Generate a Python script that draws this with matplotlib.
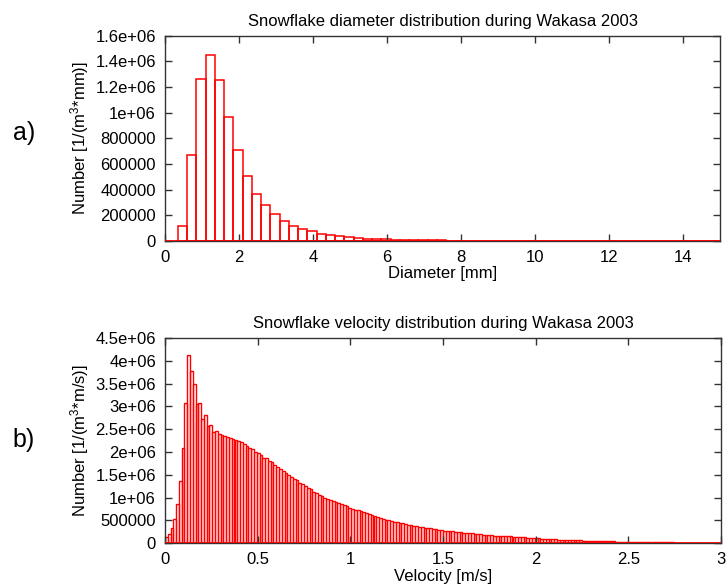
import matplotlib
matplotlib.use("Agg")
import matplotlib.pyplot as plt
import numpy as np

plt.rcParams['font.family'] = ['Liberation Sans', 'DejaVu Sans']
plt.rcParams['mathtext.fontset'] = 'custom'
plt.rcParams['mathtext.rm'] = 'Liberation Sans'
plt.rcParams['mathtext.it'] = 'Liberation Sans'
plt.rcParams['mathtext.default'] = 'rm'

# ---------------- data ----------------
diam_bin_start = 0.35
diam_bin_width = 0.25
diam_counts = [120000, 670000, 1265000, 1450000, 1252000, 970000, 710000, 506000,
               369000, 278000, 208000, 156000, 119000, 91000, 75000, 57000, 44000,
               36000, 29000, 23000, 18000, 15000, 13000, 10000, 8500, 7000, 6000,
               5000, 4200, 3500, 3000, 2500, 2100, 1800, 1500, 1300, 1100, 900, 800,
               700, 600, 500, 400, 350, 300, 250, 200, 180, 150, 120, 100, 80, 70,
               60, 50, 40, 30, 20, 10]

vel_bin_start = 0.0
vel_bin_width = 0.015
vel_counts_e6 = [
    0.145, 0.203, 0.328, 0.525, 0.87, 1.36, 2.08, 3.08, 4.12, 3.77,
    3.49, 3.06, 3.08, 2.73, 2.81, 2.57, 2.60, 2.45, 2.47, 2.39,
    2.37, 2.35, 2.32, 2.30, 2.28, 2.27, 2.24, 2.21, 2.18, 2.14,
    2.08, 2.07, 2.00, 1.98, 1.93, 1.88, 1.86, 1.81, 1.79, 1.72,
    1.67, 1.63, 1.58, 1.55, 1.50, 1.46, 1.42, 1.38, 1.33, 1.30,
    1.25, 1.21, 1.18, 1.13, 1.10, 1.06, 1.03, 1.00, 0.98, 0.96,
    0.93, 0.91, 0.88, 0.86, 0.84, 0.81, 0.78, 0.76, 0.74, 0.72,
    0.70, 0.68, 0.66, 0.64, 0.62, 0.60, 0.58, 0.56, 0.54, 0.52,
    0.50, 0.48, 0.47, 0.46, 0.44, 0.44, 0.42, 0.41, 0.40, 0.39,
    0.37, 0.36, 0.35, 0.34, 0.34, 0.33, 0.32, 0.31, 0.30, 0.29,
    0.28, 0.28, 0.27, 0.26, 0.25, 0.24, 0.24, 0.23, 0.23, 0.22,
    0.22, 0.21, 0.20, 0.20, 0.19, 0.18, 0.18, 0.18, 0.17, 0.17,
    0.17, 0.16, 0.16, 0.15, 0.15, 0.145, 0.14, 0.14, 0.13, 0.13,
    0.125, 0.12, 0.115, 0.11, 0.108, 0.104, 0.10, 0.096, 0.093, 0.09,
    0.087, 0.083, 0.08, 0.078, 0.075, 0.072, 0.07, 0.067, 0.065, 0.063,
    0.06, 0.058, 0.056, 0.054, 0.052, 0.05, 0.048, 0.046, 0.045, 0.043,
    0.042, 0.04, 0.039, 0.037, 0.036, 0.035, 0.033, 0.032, 0.031, 0.03,
    0.029, 0.028, 0.027, 0.026, 0.025, 0.024, 0.023, 0.022, 0.021, 0.02,
    0.019, 0.018, 0.018, 0.017, 0.016, 0.015, 0.015, 0.014, 0.013, 0.013,
    0.012, 0.012, 0.011, 0.011, 0.010, 0.010, 0.009, 0.009, 0.008, 0.008,
]

diam_xticks = [0, 2, 4, 6, 8, 10, 12, 14]
diam_yticks = [0, 200000, 400000, 600000, 800000, 1000000, 1200000, 1400000, 1600000]
diam_ylabels = ['0', '200000', '400000', '600000', '800000', '1e+06', '1.2e+06', '1.4e+06', '1.6e+06']

vel_xticks = [0, 0.5, 1, 1.5, 2, 2.5, 3]
vel_xlabels = ['0', '0.5', '1', '1.5', '2', '2.5', '3']
vel_yticks = [0, 500000, 1000000, 1500000, 2000000, 2500000, 3000000, 3500000, 4000000, 4500000]
vel_ylabels = ['0', '500000', '1e+06', '1.5e+06', '2e+06', '2.5e+06', '3e+06', '3.5e+06', '4e+06', '4.5e+06']

# ---------------- figure ----------------
W, H = 728, 587
fig = plt.figure(figsize=(W / 100, H / 100), dpi=100)

def frac_axes(x0, y0, x1, y1):
    return fig.add_axes([x0 / W, 1 - y1 / H, (x1 - x0) / W, (y1 - y0) / H])

ax1 = frac_axes(165, 35.7, 720, 241)
ax2 = frac_axes(165, 338, 721, 543.3)

FS = 12
red = '#ff0000'

def style(ax):
    for s in ax.spines.values():
        s.set_color('#333333')
        s.set_linewidth(1.0)
    ax.tick_params(direction='in', length=5, width=1, color='#333333',
                   top=True, right=True, labelsize=FS, pad=6.5)

# top histogram
d_counts = np.array(diam_counts, dtype=float)
d_edges = diam_bin_start + diam_bin_width * np.arange(len(d_counts))
ax1.bar(d_edges, d_counts, width=diam_bin_width, align='edge', fill=False,
        edgecolor=red, linewidth=1.1, clip_on=True)
ax1.axhline(0, color=red, linewidth=2, zorder=3)
ax1.set_xlim(0, 15)
ax1.set_ylim(0, 1.6e6)
ax1.set_xticks(diam_xticks)
ax1.set_xticklabels([str(t) for t in diam_xticks])
ax1.set_yticks(diam_yticks)
ax1.set_yticklabels(diam_ylabels)
style(ax1)
ax1.set_title('Snowflake diameter distribution during Wakasa 2003', fontsize=FS, pad=7)
ax1.set_xlabel('Diameter [mm]', fontsize=FS, labelpad=1)
ax1.set_ylabel(r'Number [1/(m$^3$*mm)]', fontsize=FS, labelpad=3)

# bottom histogram
v_counts = np.array(vel_counts_e6) * 1e6
v_edges = vel_bin_start + vel_bin_width * np.arange(len(v_counts))
ax2.bar(v_edges, v_counts, width=vel_bin_width, align='edge', fill=False,
        edgecolor=red, linewidth=1.0, clip_on=True)
ax2.axhline(0, color=red, linewidth=2, zorder=3)
ax2.set_xlim(0, 3)
ax2.set_ylim(0, 4.5e6)
ax2.set_xticks(vel_xticks)
ax2.set_xticklabels(vel_xlabels)
ax2.set_yticks(vel_yticks)
ax2.set_yticklabels(vel_ylabels)
style(ax2)
ax2.set_title('Snowflake velocity distribution during Wakasa 2003', fontsize=FS, pad=7)
ax2.set_xlabel('Velocity [m/s]', fontsize=FS, labelpad=1)
ax2.set_ylabel(r'Number [1/(m$^3$*m/s)]', fontsize=FS, labelpad=3)

fig.text(24 / W, 1 - 133 / H, 'a)', fontsize=18, ha='center', va='center')
fig.text(24 / W, 1 - 440 / H, 'b)', fontsize=18, ha='center', va='center')

fig.savefig('out.png', dpi=100)
